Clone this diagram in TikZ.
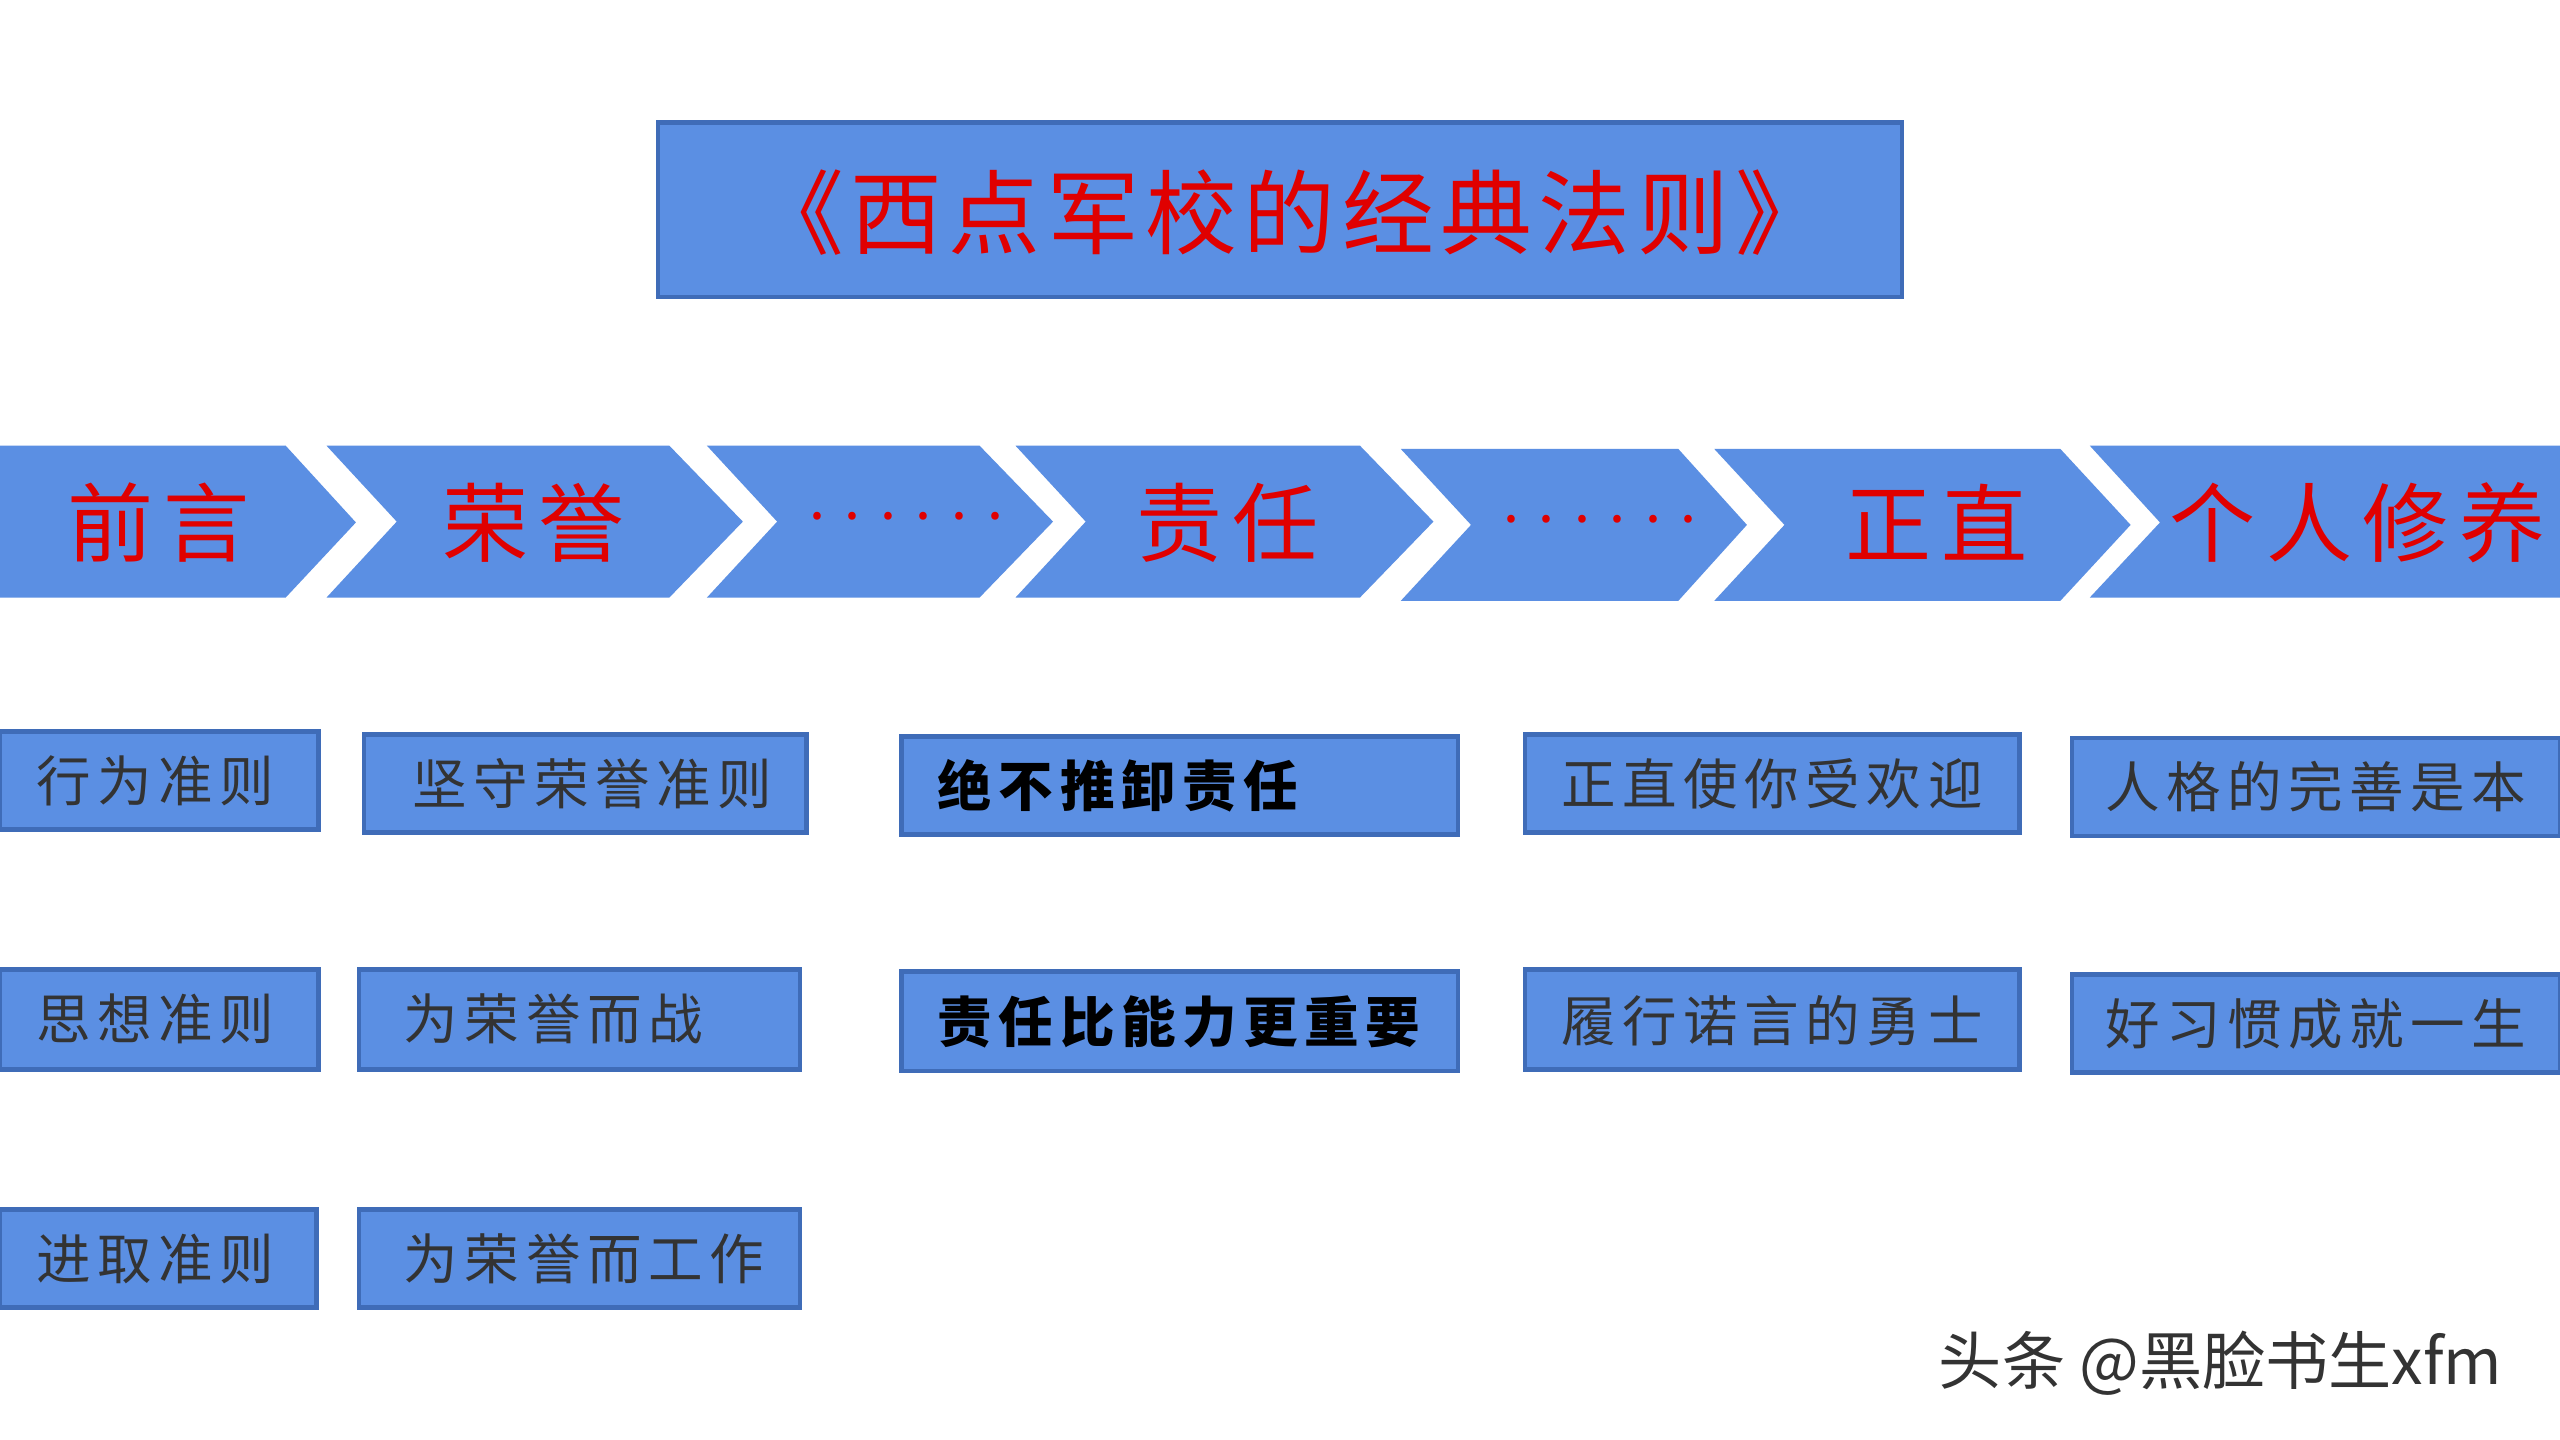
\documentclass[tikz,border=0pt]{standalone}
\usepackage{fontspec}
\setmainfont{Noto Sans CJK SC}
\newfontfamily\cjk{Noto Sans CJK SC}
\newfontfamily\cjkw[LetterSpace=12]{Noto Sans CJK SC}
\newfontfamily\cjkt[LetterSpace=7]{Noto Sans CJK SC}
\definecolor{bfill}{HTML}{5B8FE3}
\definecolor{bline}{HTML}{3F6CB8}
\definecolor{tred}{HTML}{E00000}
\definecolor{tgray}{HTML}{333333}
\newcommand{\sixdots}{\foreach \i in {1,...,6}{.\hspace{0.12cm}}}
\begin{document}
\begin{tikzpicture}[x=0.01cm,y=-0.01cm,
  box/.style={draw=bline,line width=0.8pt,fill=bfill},
  chev/.style={fill=bfill},
  ctext/.style={text=tred,font=\cjkw\fontsize{15}{15}\selectfont},
  btext/.style={text=tgray,font=\cjkw\fontsize{9.5}{10}\selectfont,anchor=west},
  bbold/.style={text=black,font=\cjkw\bfseries\fontsize{9.5}{10}\selectfont,anchor=west}]
\useasboundingbox (0,0) rectangle (1568,882);
\fill[white] (0,0) rectangle (1568,882);
% title
\draw[box] (403,75) rectangle (1165,182);
\node[text=tred,font=\cjkt\fontsize{16}{16}\selectfont] (title) at (790,130) {《西点军校的经典法则》};
% chevrons
\newcommand{\chv}[5]{%
  \fill[chev] (#1,#4) -- (#2,#4) -- (#3,{(#4+#5)/2}) -- (#2,#5) -- (#1,#5) -- ({#1+43},{(#4+#5)/2}) -- cycle;}
\fill[chev] (0,273) -- (175,273) -- (218,320) -- (175,366) -- (0,366) -- cycle;
\chv{200}{410}{455}{273}{366}
\chv{433}{600}{645}{273}{366}
\chv{622}{833}{878}{273}{366}
\chv{858}{1028}{1070}{275}{368}
\chv{1050}{1262}{1305}{275}{368}
\fill[chev] (1280,273) -- (1568,273) -- (1568,366) -- (1280,366) -- (1323,320) -- cycle;
\node[ctext] (c1) at (97,320) {前言};
\node[ctext] (c2) at (327,320) {荣誉};
\node[text=tred,font=\cjk\fontsize{10}{10}\selectfont] (c3) at (555,316) {\sixdots};
\node[ctext] (c4) at (752,320) {责任};
\node[text=tred,font=\cjk\fontsize{10}{10}\selectfont] (c5) at (980,318) {\sixdots};
\node[ctext] (c6) at (1186,320) {正直};
\node[ctext] (c7) at (1444,320) {个人修养};
% boxes
\draw[box] (0,448) rectangle (195,508);
\node[btext] (a1) at (10,478) {行为准则};
\draw[box] (0,594) rectangle (195,655);
\node[btext] (a2) at (10,624) {思想准则};
\draw[box] (0,741) rectangle (194,801);
\node[btext] (a3) at (10,771) {进取准则};
\draw[box] (223,450) rectangle (494,510);
\node[btext] (b1) at (240,480) {坚守荣誉准则};
\draw[box] (220,594) rectangle (490,655);
\node[btext] (b2) at (235,624) {为荣誉而战};
\draw[box] (220,741) rectangle (490,801);
\node[btext] (b3) at (235,771) {为荣誉而工作};
\draw[box] (552,451) rectangle (893,511);
\node[bbold] (d1) at (562,481) {绝不推卸责任};
\draw[box] (552,595) rectangle (893,656);
\node[bbold] (d2) at (562,626) {责任比能力更重要};
\draw[box] (934,450) rectangle (1237,510);
\node[btext] (e1) at (944,480) {正直使你受欢迎};
\draw[box] (934,594) rectangle (1237,655);
\node[btext] (e2) at (944,625) {履行诺言的勇士};
\draw[box] (1269,452) rectangle (1568,512);
\node[btext] (f1) at (1277,482) {人格的完善是本};
\draw[box] (1269,597) rectangle (1568,657);
\node[btext] (f2) at (1277,627) {好习惯成就一生};
% watermark
\node[text=tgray,font=\cjk\fontsize{11}{11}\selectfont,anchor=east] (wm) at (1545,835) {头条 @黑脸书生xfm};
\end{tikzpicture}
\end{document}
